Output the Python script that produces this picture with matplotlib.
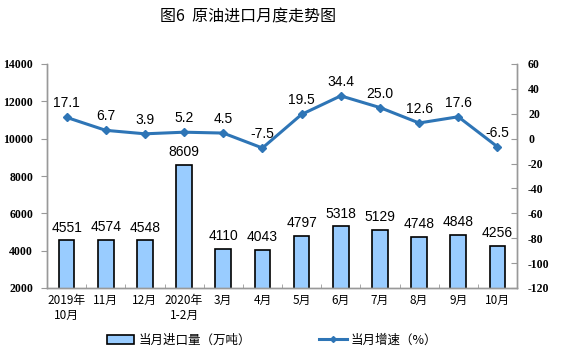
import matplotlib.pyplot as plt
from matplotlib.lines import Line2D
from matplotlib.patches import Patch

plt.rcParams['font.family'] = ['Noto Sans CJK SC', 'DejaVu Sans']
plt.rcParams['axes.unicode_minus'] = False

months = ['2019年\n10月', '11月', '12月', '2020年\n1-2月', '3月', '4月',
          '5月', '6月', '7月', '8月', '9月', '10月']
imports = [4551, 4574, 4548, 8609, 4110, 4043, 4797, 5318, 5129, 4748, 4848, 4256]
growth = [17.1, 6.7, 3.9, 5.2, 4.5, -7.5, 19.5, 34.4, 25.0, 12.6, 17.6, -6.5]

bar_color = '#99CCFF'
line_color = '#2E75B6'
num_font = ['Liberation Sans', 'DejaVu Sans']
tick_font = ['Liberation Serif', 'DejaVu Serif']

fig = plt.figure(figsize=(5.61, 3.57), dpi=100)
ax = fig.add_axes([47 / 561, 1 - 288 / 357, 470 / 561, 224 / 357])
ax2 = ax.twinx()

x = list(range(len(months)))
ax.bar(x, imports, width=0.4, color=bar_color, edgecolor='black', linewidth=1.2, zorder=2)
for xi, v in zip(x, imports):
    ax.annotate(str(v), (xi, v), xytext=(0, 4), textcoords='offset points',
                ha='center', va='bottom', fontsize=10, family=num_font)

ax2.plot(x, growth, color=line_color, linewidth=2.2, marker='D', markersize=4, zorder=3)
for xi, v in zip(x, growth):
    ax2.annotate(f'{v:.1f}', (xi, v), xytext=(0, 5), textcoords='offset points',
                 ha='center', va='bottom', fontsize=10, family=num_font)

ax.set_xlim(-0.5, 11.5)
ax.set_ylim(2000, 14000)
ax.set_yticks(range(2000, 14001, 2000))
ax2.set_ylim(-120, 60)
ax2.set_yticks(range(-120, 61, 20))

ax.set_xticks(x)
ax.set_xticklabels(months, fontsize=8.5, linespacing=1.2)
ax.set_xticks([i + 0.5 for i in range(-1, 12)], minor=True)
ax.tick_params(axis='x', which='major', length=0, pad=4)
ax.tick_params(axis='x', which='minor', direction='in', length=3, color='#999999')

for lab in ax.get_yticklabels():
    lab.set_family(tick_font)
    lab.set_fontweight('bold')
for lab in ax2.get_yticklabels():
    lab.set_family(tick_font)
    lab.set_fontweight('bold')
ax.tick_params(axis='y', direction='out', length=4, color='#999999', labelsize=8.5, pad=6)
ax2.tick_params(axis='y', direction='in', length=4, color='#999999', labelsize=8.5, pad=8)

for a in (ax, ax2):
    a.spines['top'].set_visible(False)
    for s in ('left', 'right', 'bottom'):
        a.spines[s].set_color('#999999')
        a.spines[s].set_linewidth(1)

fig.text(248 / 561, 1 - 17 / 357, '图6  原油进口月度走势图', ha='center', va='center', fontsize=11.5)

handles = [Patch(facecolor=bar_color, edgecolor='black', linewidth=1.2),
           Line2D([0], [0], color=line_color, linewidth=2.2, marker='D', markersize=3)]
fig.legend(handles, ['当月进口量（万吨）', '当月增速（%）'], loc='center',
           bbox_to_anchor=(272 / 561, 1 - 340 / 357), ncol=2, frameon=False,
           fontsize=9, columnspacing=5.5, handlelength=2.2, handletextpad=0.3)

fig.savefig('out.png', dpi=100)
